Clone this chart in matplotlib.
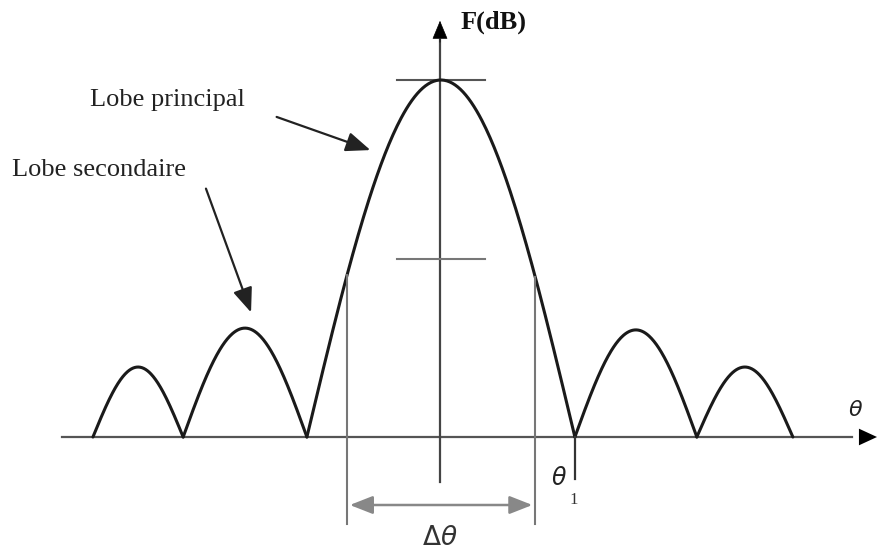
import numpy as np
import matplotlib.pyplot as plt

# lobes of the radiation pattern (theta in degrees, F normalised)
lobe_start = [-77.7, -57.5, -29.8, 30.2, 57.5]
lobe_end = [-57.5, -29.8, 30.2, 57.5, 79.0]
lobe_peak = [0.196, 0.305, 1.0, 0.30, 0.196]
half_power = [-20.8, 21.3]   # limits of delta theta
theta1 = 30.2

S = 30 / 134.0   # degrees per pixel
H = 357.0        # pixels per unit of F


def px(x):
    return (x - 440) * S


def py(y):
    return (437 - y) / H


fig = plt.figure(figsize=(8.77, 5.51), dpi=100)
ax = fig.add_axes([0, 0, 1, 1])
ax.set_xlim(px(0), px(877))
ax.set_ylim(py(551), py(0))
ax.axis("off")

# axes of the diagram
ax.plot([px(62), px(852)], [0, 0], color="#555555", lw=1.6)
ax.annotate("", xy=(px(877), 0), xytext=(px(858), 0), annotation_clip=False,
            arrowprops=dict(arrowstyle="-|>,head_length=1.3,head_width=0.6",
                            color="black", lw=0, shrinkA=0, shrinkB=0))
ax.plot([0, 0], [py(482), py(40)], color="#444444", lw=1.6)
ax.annotate("", xy=(0, py(18)), xytext=(0, py(45)),
            arrowprops=dict(arrowstyle="-|>,head_length=1.2,head_width=0.5",
                            color="black", lw=0.5))
ax.plot([px(397), px(485)], [1, 1], color="#555555", lw=1.5)
ax.plot([px(397), px(485)], [0.5, 0.5], color="#777777", lw=1.5)

# lobes
for a, b, h in zip(lobe_start, lobe_end, lobe_peak):
    t = np.linspace(a, b, 200)
    ax.plot(t, h * np.sin(np.pi * (t - a) / (b - a)), color="#1a1a1a",
            lw=2.2, solid_capstyle="round")

# half power beamwidth
for hp in half_power:
    top = np.sin(np.pi * (hp - lobe_start[2]) / (lobe_end[2] - lobe_start[2]))
    ax.plot([hp, hp], [top, py(524)], color="#777777", lw=1.5)
ax.annotate("", xy=(half_power[0], py(505)), xytext=(half_power[1], py(505)),
            arrowprops=dict(arrowstyle="<|-|>,head_length=1.4,head_width=0.55",
                            color="#888888", lw=1.8, shrinkA=2, shrinkB=2))
ax.text(0, py(538), r"$\Delta\theta$", ha="center", va="center",
        fontsize=19, color="#333333")

ax.plot([theta1, theta1], [0, py(479)], color="#333333", lw=1.6)
ax.text(px(559), py(478), r"$\theta$", ha="center", va="center",
        fontsize=17, color="#222222")
ax.text(px(574), py(500), "1", ha="center", va="center",
        fontsize=12, color="#333333", family="Liberation Serif")
ax.text(px(856), py(410), r"$\theta$", ha="center", va="center",
        fontsize=16, color="#222222")

ax.text(px(461), py(22), "F(dB)", ha="left", va="center", fontsize=19,
        fontweight="bold", family="Liberation Serif", color="#111111")

# annotations
ax.text(px(90), py(100), "Lobe principal", ha="left", va="center",
        fontsize=19, family="Liberation Serif", color="#222222")
ax.annotate("", xy=(px(373), py(151)), xytext=(px(274), py(116)),
            arrowprops=dict(arrowstyle="-|>,head_length=1.5,head_width=0.6",
                            color="#222222", lw=1.6))
ax.text(px(12), py(170), "Lobe secondaire", ha="left", va="center",
        fontsize=19, family="Liberation Serif", color="#222222")
ax.annotate("", xy=(px(252), py(315)), xytext=(px(205), py(186)),
            arrowprops=dict(arrowstyle="-|>,head_length=1.5,head_width=0.6",
                            color="#222222", lw=1.6))

fig.savefig("out.png", dpi=100)
